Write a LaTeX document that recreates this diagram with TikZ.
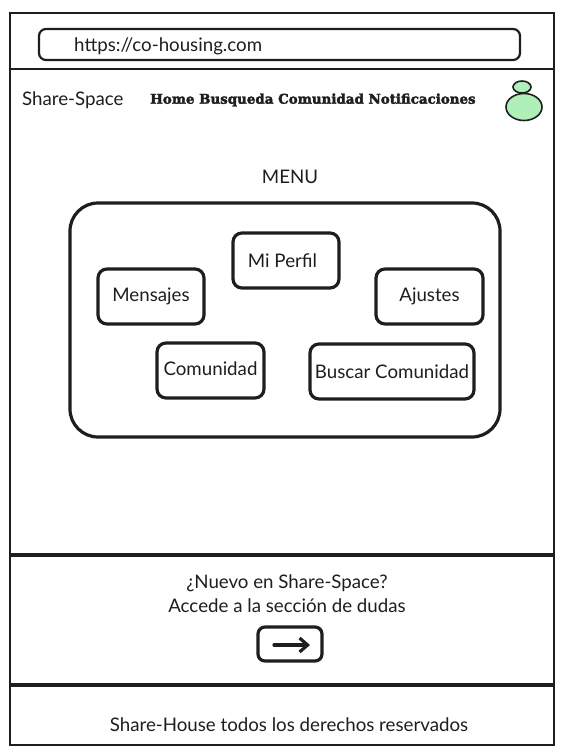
\documentclass[tikz,border=0pt]{standalone}
\usepackage{fontspec}
\setmainfont{Lato}
\newfontfamily\navfont[BoldFeatures={FakeBold=2.5}]{DejaVu Serif}
\usetikzlibrary{positioning,arrows.meta,shapes.geometric}
\definecolor{ink}{HTML}{1E1E1E}
\definecolor{avatargreen}{HTML}{B0F0B8}
\tikzset{
	label text/.style={text=ink,font=\fontsize{18.7}{22}\selectfont,inner sep=0pt},
	menu btn/.style={draw=ink,line width=3.2pt,rounded corners=9pt,fill=white,minimum height=55pt,label text},
	frame line/.style={draw=ink,line width=2.4pt},
	thick line/.style={draw=ink,line width=3.2pt},
	avatar part/.style={draw=ink,line width=1.6pt,fill=avatargreen,ellipse,inner sep=0pt}
}

\begin{document}
\begin{tikzpicture}[x=1pt,y=-1pt,node distance=8pt]
	\useasboundingbox (0,0) rectangle (561,755);
	% window frame and bands
	\coordinate (fl) at (10,13);
	\coordinate (fr) at (554,745);
	\draw[frame line] (fl) rectangle (fr);
	\coordinate (l1) at (10,69);
	\coordinate (r1) at (554,69);
	\coordinate (l2) at (10,555);
	\coordinate (r2) at (554,555);
	\coordinate (l3) at (10,685);
	\coordinate (r3) at (554,685);
	\draw[frame line] (l1) -- (r1);
	\draw[thick line] (l2) -- (r2);
	\draw[thick line] (l3) -- (r3);

	% address bar
	\node (bar) [draw=ink,line width=2.2pt,rounded corners=7pt,minimum width=481pt,minimum height=31pt] at (279.5,44.5) {};
	\node (url) [label text,anchor=west] at (74,46.5) {https://co-housing.com};

	% top row
	\node (brand) [label text,anchor=west] at (22,100.5) {Share-Space};
	\node (nav)   [text=ink,inner sep=0pt,anchor=west,font=\navfont\bfseries\fontsize{13.4}{16}\selectfont] at (150,100) {Home Busqueda Comunidad Notificaciones};
	\node (head)  [avatar part,minimum width=18pt,minimum height=12pt] at (522,87) {};
	\node (body)  [avatar part,minimum width=36pt,minimum height=27pt] at (524,107) {};

	% menu
	\node (title) [label text] at (290,176.5) {MENU};
	\node (panel) [draw=ink,line width=3.2pt,rounded corners=28pt,minimum width=430pt,minimum height=234pt] at (285,320) {};
	\node (perfil)   [menu btn,minimum width=106pt] at (286,260.5) {\kern-7pt\raisebox{-1pt}{Mi Perfil}};
	\node (mensajes) [menu btn,minimum width=106pt] at (151,296.5) {Mensajes};
	\node (ajustes)  [menu btn,minimum width=107pt] at (429.5,296.5) {Ajustes};
	\node (comunidad)[menu btn,minimum width=107pt] at (210.5,370.5) {\raisebox{4pt}{Comunidad}};
	\node (buscar)   [menu btn,minimum width=164pt] at (392,371.5) {Buscar Comunidad};

	% help section
	\node (nuevo)  [label text] at (287,583.5) {¿Nuevo en Share-Space?};
	\node (accede) [label text,below=6pt of nuevo] {Accede a la sección de dudas};
	\node (go)     [draw=ink,line width=3.2pt,rounded corners=7pt,minimum width=64pt,minimum height=34pt] at (290,644) {};
	\coordinate (gotail) at (274,645);
	\coordinate (gotip)  at (310,645);
	\draw[draw=ink,line width=3.2pt,line cap=round,-{Straight Barb[length=8pt,width=14pt]}] (gotail) -- (gotip);

	% footer
	\node (foot) [label text] at (289,724.5) {Share-House todos los derechos reservados};
\end{tikzpicture}
\end{document}
